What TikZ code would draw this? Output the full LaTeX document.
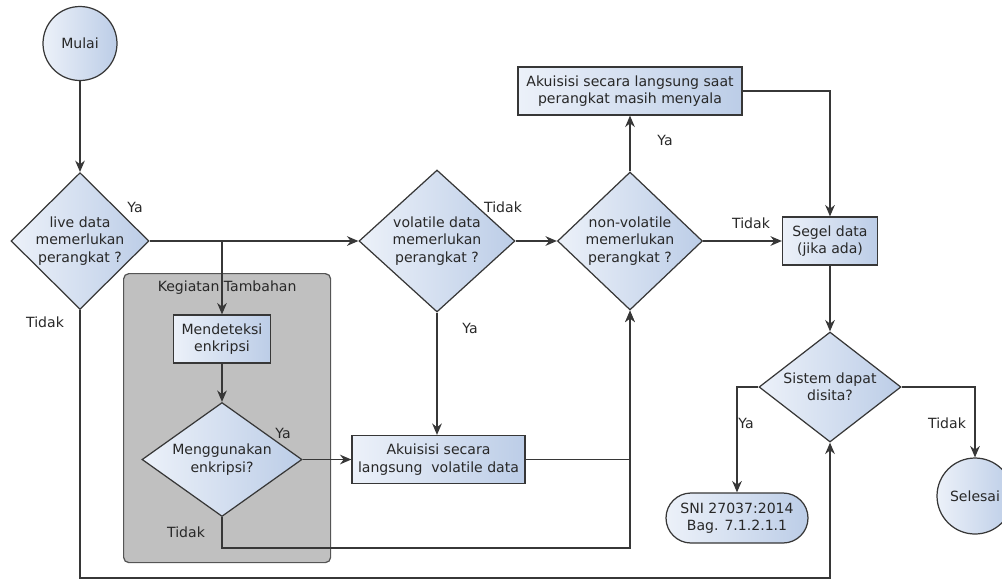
\documentclass[tikz,border=0pt]{standalone}
\usepackage{fontspec}
\setmainfont{DejaVu Sans}
\usetikzlibrary{shapes.geometric, arrows.meta, positioning}
\definecolor{fillL}{RGB}{236,241,249}
\definecolor{fillR}{RGB}{188,205,231}
\definecolor{edge}{RGB}{55,55,55}
\definecolor{grpfill}{RGB}{192,192,192}
\definecolor{grpedge}{RGB}{85,85,85}
\definecolor{txt}{RGB}{40,40,40}

\begin{document}
\begin{tikzpicture}[
  font=\fontsize{8}{9.8}\selectfont,
  base/.style={draw=edge, line width=0.7pt, left color=fillL, right color=fillR, align=center, text=txt},
  term/.style={base, circle, minimum size=1.48cm, inner sep=0pt},
  proc/.style={base, rectangle, minimum height=0.96cm, inner sep=1pt},
  dec/.style={base, diamond, inner sep=0pt},
  stad/.style={base, rectangle, rounded corners=0.5cm, minimum height=1.0cm, minimum width=2.84cm},
  grp/.style={draw=grpedge, fill=grpfill, line width=0.7pt, rounded corners=3pt},
  lbl/.style={text=txt},
  arr/.style={draw=edge, line width=0.7pt, -{Stealth[length=6.5pt, width=5.5pt]}}
]
\useasboundingbox (0,0) rectangle (20.04,-11.62);
% kotak kegiatan tambahan
\node[grp, minimum width=4.14cm, minimum height=5.78cm, anchor=north west] (kegiatan) at (2.46,-5.46) {};
\node[lbl, below=0.03cm of kegiatan.north] (kegT) {Kegiatan Tambahan};
% simpul
\node[term] (mulai) at (1.60,-0.87) {Mulai};
\node[dec, minimum width=2.76cm, minimum height=2.66cm] (d1) at (1.60,-4.82) {live data\\memerlukan\\perangkat ?};
\node[proc, minimum width=1.94cm] (bdet) at (4.44,-6.78) {Mendeteksi\\enkripsi};
\node[dec, aspect=1.4, minimum width=3.2cm, minimum height=2.28cm] (denk) at (4.44,-9.19) {Menggunakan\\enkripsi?};
\node[dec, minimum width=3.12cm, minimum height=2.84cm] (dvol) at (8.74,-4.82) {volatile data\\memerlukan\\perangkat ?};
\node[proc, minimum width=3.46cm] (bvol) at (8.77,-9.19) {Akuisisi secara\\langsung\ \ volatile data};
\node[dec, minimum width=2.9cm, minimum height=2.76cm] (dnon) at (12.60,-4.82) {non-volatile\\memerlukan\\perangkat ?};
\node[proc, minimum width=4.48cm] (bsaat) at (12.60,-1.82) {Akuisisi secara langsung saat\\perangkat masih menyala};
\node[proc, minimum width=1.9cm] (bseg) at (16.60,-4.82) {Segel data\\(jika ada)};
\node[dec, aspect=1.3, minimum width=2.84cm, minimum height=2.2cm] (dsit) at (16.60,-7.74) {Sistem dapat\\disita?};
\node[stad] (sni) at (14.74,-10.36) {SNI 27037:2014\\Bag. 7.1.2.1.1};
\node[term, minimum size=1.52cm] (selesai) at (19.50,-9.92) {Selesai};
% label
\node[lbl] (ya1) at (2.70,-4.14) {Ya};
\node[lbl] (tidak1) at (0.90,-6.44) {Tidak};
\node[lbl] (ya2) at (5.66,-8.66) {Ya};
\node[lbl] (tidak2) at (3.72,-10.64) {Tidak};
\node[lbl] (tidak3) at (10.06,-4.14) {Tidak};
\node[lbl] (ya3) at (9.40,-6.56) {Ya};
\node[lbl] (ya4) at (13.30,-2.80) {Ya};
\node[lbl] (tidak4) at (15.02,-4.46) {Tidak};
\node[lbl] (ya5) at (14.92,-8.46) {Ya};
\node[lbl] (tidak5) at (18.94,-8.46) {Tidak};
% garis
\coordinate (brk) at (bdet.north |- d1.east);
\coordinate (jB) at (12.60,-10.96);
\coordinate (jC) at (1.60,-11.56);
\draw[arr] (mulai) -- (d1);
\draw[arr] (d1.east) -- (dvol.west);
\draw[arr] (brk) -- (bdet.north);
\draw[arr] (bdet) -- (denk);
\draw[arr] (denk.east) -- (bvol.west);
\draw[arr] (denk.south) |- (jB) -- (dnon.south);
\draw[arr] (bvol.east) -| (dnon.south);
\draw[arr] (dvol.south) -- (dvol.south |- bvol.north);
\draw[arr] (dvol.east) -- (dnon.west);
\draw[arr] (dnon.north) -- (bsaat.south);
\draw[arr] (dnon.east) -- (bseg.west);
\draw[arr] (bsaat.east) -| (bseg.north);
\draw[arr] (bseg) -- (dsit);
\draw[arr] (dsit.west) -| (sni.north);
\draw[arr] (dsit.east) -| (selesai.north);
\draw[arr] (d1.south) -- (jC) -| (dsit.south);
\end{tikzpicture}
\end{document}
